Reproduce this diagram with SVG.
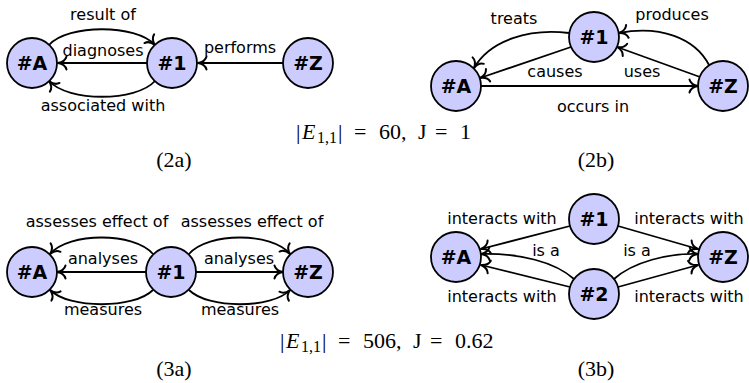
<svg xmlns="http://www.w3.org/2000/svg" width="749" height="383" viewBox="0 0 749 383">
<style>
.node circle{fill:#ccccff;stroke:#000;stroke-width:1.8}
.node text{font-family:"DejaVu Sans",sans-serif;font-weight:bold;font-size:19px;text-anchor:middle}
.edge{fill:none;stroke:#000;stroke-width:1.8;marker-end:url(#arr)}
.lbl{font-family:"DejaVu Sans",sans-serif;font-size:16px;text-anchor:middle;fill:#000}
.cap{font-family:"Liberation Serif","Times New Roman",serif;font-size:22px;fill:#000}
.sub{font-size:16px}
</style>
<defs>
<marker id="arr" markerUnits="userSpaceOnUse" markerWidth="16" markerHeight="16" viewBox="-10 -8 12 16" refX="0" refY="0" orient="auto" overflow="visible">
<path d="M-8.5,-6.5 C-7.5,-2.5 -3,-0.5 0,0 C-3,0.5 -7.5,2.5 -8.5,6.5" fill="none" stroke="#000" stroke-width="2" stroke-linecap="round" stroke-linejoin="round"/>
</marker>
</defs>

<g id="connectors">
<!-- 2a -->
<path class="edge" d="M49,45 C68,24 136,24 155,45"/>
<path class="edge" d="M147,63 L58,63"/>
<path class="edge" d="M155,81 C136,102 68,102 49,81"/>
<path class="edge" d="M283,63 L198,63"/>
<!-- 2b -->
<path class="edge" d="M569,33 C530,28 490,40 474,68"/>
<path class="edge" d="M571,47 L480,78"/>
<path class="edge" d="M709,65 C695,38 660,25 619,33"/>
<path class="edge" d="M700,77 L617,47"/>
<path class="edge" d="M481,86 L698,86"/>
<!-- 3a -->
<path class="edge" d="M153,254 C134,232 69,232 50,254"/>
<path class="edge" d="M146,272 L57,272"/>
<path class="edge" d="M153,290 C134,309 69,309 50,290"/>
<path class="edge" d="M189,254 C208,232 272,232 290,254"/>
<path class="edge" d="M196,272 L283,272"/>
<path class="edge" d="M189,290 C208,309 272,309 290,290"/>
<!-- 3b -->
<path class="edge" d="M570,226 L481,249"/>
<path class="edge" d="M574,279 C555,262 520,253 481,254"/>
<path class="edge" d="M570,287 L481,265"/>
<path class="edge" d="M618,226 L698,249"/>
<path class="edge" d="M614,279 C633,262 668,253 698,254"/>
<path class="edge" d="M618,287 L698,265"/>
</g>

<g id="labels">
<text class="lbl" x="103" y="20">result of</text>
<text class="lbl" x="103" y="56">diagnoses</text>
<text class="lbl" x="240" y="53">performs</text>
<text class="lbl" x="103" y="111">associated with</text>
<text class="lbl" x="514" y="24">treats</text>
<text class="lbl" x="672" y="20">produces</text>
<text class="lbl" x="555" y="77">causes</text>
<text class="lbl" x="642" y="77">uses</text>
<text class="lbl" x="593" y="112">occurs in</text>
<text class="lbl" x="97" y="227">assesses effect of</text>
<text class="lbl" x="252" y="227">assesses effect of</text>
<text class="lbl" x="103" y="264">analyses</text>
<text class="lbl" x="239" y="264">analyses</text>
<text class="lbl" x="103" y="315">measures</text>
<text class="lbl" x="240" y="315">measures</text>
<text class="lbl" x="502" y="224">interacts with</text>
<text class="lbl" x="689" y="224">interacts with</text>
<text class="lbl" x="546" y="256">is a</text>
<text class="lbl" x="637" y="256">is a</text>
<text class="lbl" x="502" y="302">interacts with</text>
<text class="lbl" x="689" y="302">interacts with</text>
</g>

<g id="n2a-A" class="node"><circle cx="32" cy="63" r="25"/><text x="32" y="70">#A</text></g>
<g id="n2a-1" class="node"><circle cx="172" cy="63" r="25"/><text x="172" y="70">#1</text></g>
<g id="n2a-Z" class="node"><circle cx="308" cy="63" r="25"/><text x="308" y="70">#Z</text></g>
<g id="n2b-1" class="node"><circle cx="594" cy="37" r="25"/><text x="594" y="44">#1</text></g>
<g id="n2b-A" class="node"><circle cx="456" cy="86" r="25"/><text x="456" y="93">#A</text></g>
<g id="n2b-Z" class="node"><circle cx="723" cy="86" r="25"/><text x="723" y="93">#Z</text></g>
<g id="n3a-A" class="node"><circle cx="32" cy="272" r="25"/><text x="32" y="279">#A</text></g>
<g id="n3a-1" class="node"><circle cx="171" cy="272" r="25"/><text x="171" y="279">#1</text></g>
<g id="n3a-Z" class="node"><circle cx="308" cy="272" r="25"/><text x="308" y="279">#Z</text></g>
<g id="n3b-1" class="node"><circle cx="594" cy="219" r="25"/><text x="594" y="226">#1</text></g>
<g id="n3b-2" class="node"><circle cx="594" cy="294" r="25"/><text x="594" y="301">#2</text></g>
<g id="n3b-A" class="node"><circle cx="456" cy="257" r="25"/><text x="456" y="264">#A</text></g>
<g id="n3b-Z" class="node"><circle cx="723" cy="257" r="25"/><text x="723" y="264">#Z</text></g>

<g id="captions" class="cap">
<text y="139"><tspan x="296">|</tspan><tspan x="302" font-style="italic">E</tspan><tspan x="317" class="sub" dy="4">1,1</tspan><tspan x="338" dy="-4">|</tspan><tspan x="354">=</tspan><tspan x="379">60,</tspan><tspan x="418">J</tspan><tspan x="435">=</tspan><tspan x="460">1</tspan></text>
<text y="348"><tspan x="280">|</tspan><tspan x="286" font-style="italic">E</tspan><tspan x="301" class="sub" dy="4">1,1</tspan><tspan x="322" dy="-4">|</tspan><tspan x="338">=</tspan><tspan x="363">506,</tspan><tspan x="413">J</tspan><tspan x="430">=</tspan><tspan x="455">0.62</tspan></text>
<text x="174" y="167" text-anchor="middle">(2a)</text>
<text x="596" y="167" text-anchor="middle">(2b)</text>
<text x="174" y="376" text-anchor="middle">(3a)</text>
<text x="596" y="376" text-anchor="middle">(3b)</text>
</g>
</svg>
